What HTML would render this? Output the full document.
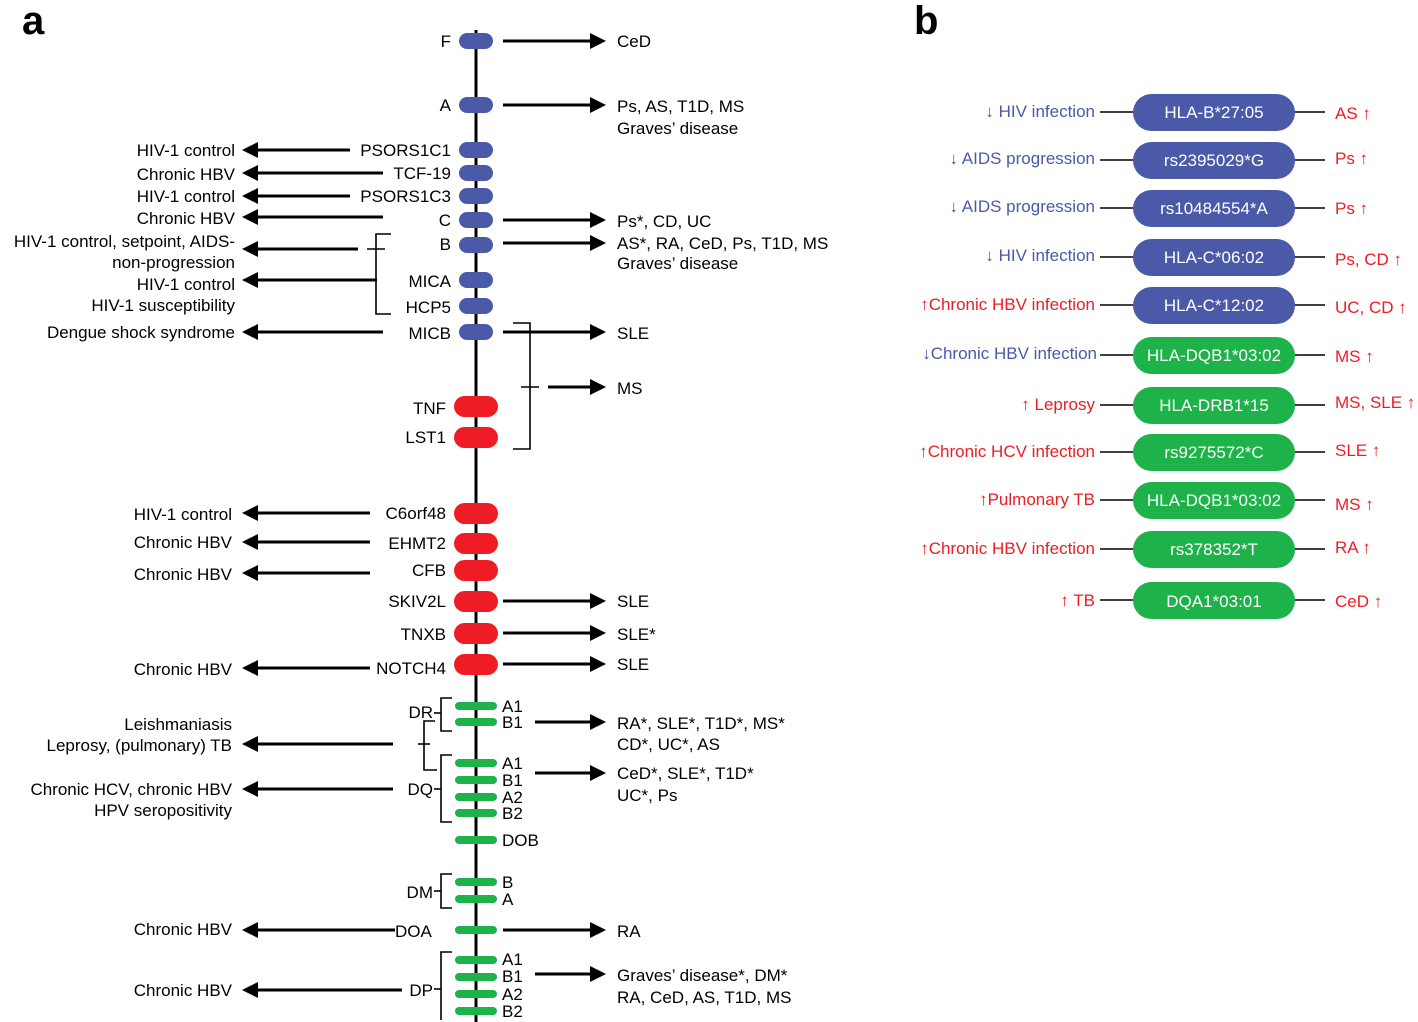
<!DOCTYPE html>
<html><head><meta charset="utf-8"><style>
body{margin:0;background:#fff}
svg{display:block}
text{font-family:"Liberation Sans",Arial,sans-serif;font-size:17px;fill:#000}
.e{text-anchor:end}
.bl{fill:#4a5aa8}.rd{fill:#ee1c25}
.pw{fill:#fff;text-anchor:middle}
</style></head><body>
<svg width="1418" height="1022" viewBox="0 0 1418 1022" xmlns="http://www.w3.org/2000/svg">
<defs>
<marker id="ah" markerWidth="10" markerHeight="10" refX="0" refY="5" orient="auto" markerUnits="userSpaceOnUse">
</marker>
</defs>
<text x="22" y="34" style="font-size:40px;font-weight:bold">a</text>
<text x="914" y="34" style="font-size:40px;font-weight:bold">b</text>
<line x1="476" y1="30" x2="476" y2="1022" stroke="#000" stroke-width="3"/>
<g fill="#4a5aa8">
<rect x="459" y="33" width="34" height="16" rx="8"/>
<rect x="459" y="97" width="34" height="16" rx="8"/>
<rect x="459" y="142" width="34" height="16" rx="8"/>
<rect x="459" y="165" width="34" height="16" rx="8"/>
<rect x="459" y="188" width="34" height="16" rx="8"/>
<rect x="459" y="212" width="34" height="16" rx="8"/>
<rect x="459" y="237" width="34" height="16" rx="8"/>
<rect x="459" y="272" width="34" height="16" rx="8"/>
<rect x="459" y="298" width="34" height="16" rx="8"/>
<rect x="459" y="324" width="34" height="16" rx="8"/>
</g>
<g fill="#ee1c25">
<rect x="454" y="396" width="44" height="21" rx="10.5"/>
<rect x="454" y="427" width="44" height="21" rx="10.5"/>
<rect x="454" y="503" width="44" height="21" rx="10.5"/>
<rect x="454" y="533" width="44" height="21" rx="10.5"/>
<rect x="454" y="560" width="44" height="21" rx="10.5"/>
<rect x="454" y="591" width="44" height="21" rx="10.5"/>
<rect x="454" y="623" width="44" height="21" rx="10.5"/>
<rect x="454" y="654" width="44" height="21" rx="10.5"/>
</g>
<g fill="#1db24a">
<rect x="455" y="702" width="42" height="8" rx="4"/>
<rect x="455" y="718" width="42" height="8" rx="4"/>
<rect x="455" y="759" width="42" height="8" rx="4"/>
<rect x="455" y="776" width="42" height="8" rx="4"/>
<rect x="455" y="793" width="42" height="8" rx="4"/>
<rect x="455" y="809" width="42" height="8" rx="4"/>
<rect x="455" y="836" width="42" height="8" rx="4"/>
<rect x="455" y="878" width="42" height="8" rx="4"/>
<rect x="455" y="895" width="42" height="8" rx="4"/>
<rect x="455" y="926" width="42" height="8" rx="4"/>
<rect x="455" y="956" width="42" height="8" rx="4"/>
<rect x="455" y="973" width="42" height="8" rx="4"/>
<rect x="455" y="990" width="42" height="8" rx="4"/>
<rect x="455" y="1007" width="42" height="8" rx="4"/>
</g>
<!-- right arrows -->
<g stroke="#000" stroke-width="3">
<line x1="503" y1="41" x2="592" y2="41"/>
<line x1="503" y1="105" x2="592" y2="105"/>
<line x1="503" y1="220" x2="592" y2="220"/>
<line x1="503" y1="243" x2="592" y2="243"/>
<line x1="503" y1="332" x2="592" y2="332"/>
<line x1="548" y1="387" x2="592" y2="387"/>
<line x1="503" y1="601" x2="592" y2="601"/>
<line x1="503" y1="633" x2="592" y2="633"/>
<line x1="503" y1="664" x2="592" y2="664"/>
<line x1="535" y1="722" x2="592" y2="722"/>
<line x1="535" y1="773" x2="592" y2="773"/>
<line x1="503" y1="930" x2="592" y2="930"/>
<line x1="535" y1="974" x2="592" y2="974"/>
</g>
<g fill="#000">
<polygon points="590,33 606,41 590,49"/>
<polygon points="590,97 606,105 590,113"/>
<polygon points="590,212 606,220 590,228"/>
<polygon points="590,235 606,243 590,251"/>
<polygon points="590,324 606,332 590,340"/>
<polygon points="590,379 606,387 590,395"/>
<polygon points="590,593 606,601 590,609"/>
<polygon points="590,625 606,633 590,641"/>
<polygon points="590,656 606,664 590,672"/>
<polygon points="590,714 606,722 590,730"/>
<polygon points="590,765 606,773 590,781"/>
<polygon points="590,922 606,930 590,938"/>
<polygon points="590,966 606,974 590,982"/>
</g>
<!-- left arrows -->
<g stroke="#000" stroke-width="3">
<line x1="255" y1="150" x2="350" y2="150"/>
<line x1="255" y1="173" x2="383" y2="173"/>
<line x1="255" y1="196" x2="350" y2="196"/>
<line x1="255" y1="217" x2="383" y2="217"/>
<line x1="255" y1="249" x2="358" y2="249"/>
<line x1="255" y1="280" x2="377" y2="280"/>
<line x1="255" y1="332" x2="383" y2="332"/>
<line x1="255" y1="513" x2="370" y2="513"/>
<line x1="255" y1="542" x2="370" y2="542"/>
<line x1="255" y1="573" x2="370" y2="573"/>
<line x1="255" y1="668" x2="370" y2="668"/>
<line x1="255" y1="744" x2="393" y2="744"/>
<line x1="255" y1="789" x2="393" y2="789"/>
<line x1="255" y1="930" x2="395" y2="930"/>
<line x1="255" y1="990" x2="402" y2="990"/>
</g>
<g fill="#000">
<polygon points="258,142 242,150 258,158"/>
<polygon points="258,165 242,173 258,181"/>
<polygon points="258,188 242,196 258,204"/>
<polygon points="258,209 242,217 258,225"/>
<polygon points="258,241 242,249 258,257"/>
<polygon points="258,272 242,280 258,288"/>
<polygon points="258,324 242,332 258,340"/>
<polygon points="258,505 242,513 258,521"/>
<polygon points="258,534 242,542 258,550"/>
<polygon points="258,565 242,573 258,581"/>
<polygon points="258,660 242,668 258,676"/>
<polygon points="258,736 242,744 258,752"/>
<polygon points="258,781 242,789 258,797"/>
<polygon points="258,922 242,930 258,938"/>
<polygon points="258,982 242,990 258,998"/>
</g>
<!-- brackets -->
<g stroke="#000" stroke-width="1.6" fill="none">
<polyline points="391,234 376,234 376,314 391,314"/>
<line x1="367" y1="249" x2="385" y2="249"/>
<polyline points="513,323 530,323 530,449 513,449"/>
<line x1="521" y1="387" x2="539" y2="387"/>
<polyline points="452,698 441,698 441,731 452,731"/>
<line x1="434" y1="713" x2="441" y2="713"/>
<polyline points="435,721 424,721 424,770 437,770"/>
<line x1="418" y1="744" x2="430" y2="744"/>
<polyline points="452,755 441,755 441,822 452,822"/>
<line x1="434" y1="789" x2="441" y2="789"/>
<polyline points="452,874 441,874 441,908 452,908"/>
<line x1="434" y1="891" x2="441" y2="891"/>
<polyline points="452,952 441,952 441,1020"/>
<line x1="434" y1="989" x2="441" y2="989"/>
</g>
<!-- gene labels -->
<text class="e" x="451" y="47">F</text>
<text class="e" x="451" y="111">A</text>
<text class="e" x="451" y="156">PSORS1C1</text>
<text class="e" x="451" y="179">TCF-19</text>
<text class="e" x="451" y="202">PSORS1C3</text>
<text class="e" x="451" y="226">C</text>
<text class="e" x="451" y="250">B</text>
<text class="e" x="451" y="287">MICA</text>
<text class="e" x="451" y="313">HCP5</text>
<text class="e" x="451" y="339">MICB</text>
<text class="e" x="446" y="414">TNF</text>
<text class="e" x="446" y="443">LST1</text>
<text class="e" x="446" y="519">C6orf48</text>
<text class="e" x="446" y="549">EHMT2</text>
<text class="e" x="446" y="576">CFB</text>
<text class="e" x="446" y="607">SKIV2L</text>
<text class="e" x="446" y="640">TNXB</text>
<text class="e" x="446" y="674">NOTCH4</text>
<text class="e" x="433" y="718">DR</text>
<text class="e" x="433" y="795">DQ</text>
<text class="e" x="433" y="898">DM</text>
<text x="395" y="937">DOA</text>
<text class="e" x="433" y="996">DP</text>
<text x="502" y="712">A1</text><text x="502" y="728">B1</text>
<text x="502" y="769">A1</text><text x="502" y="786">B1</text>
<text x="502" y="803">A2</text><text x="502" y="819">B2</text>
<text x="502" y="846">DOB</text>
<text x="502" y="888">B</text><text x="502" y="905">A</text>
<text x="502" y="965">A1</text><text x="502" y="982">B1</text>
<text x="502" y="1000">A2</text><text x="502" y="1017">B2</text>
<!-- right disease labels -->
<text x="617" y="47">CeD</text>
<text x="617" y="112">Ps, AS, T1D, MS</text>
<text x="617" y="134">Graves’ disease</text>
<text x="617" y="227">Ps*, CD, UC</text>
<text x="617" y="249">AS*, RA, CeD, Ps, T1D, MS</text>
<text x="617" y="269">Graves’ disease</text>
<text x="617" y="339">SLE</text>
<text x="617" y="394">MS</text>
<text x="617" y="607">SLE</text>
<text x="617" y="640">SLE*</text>
<text x="617" y="670">SLE</text>
<text x="617" y="729">RA*, SLE*, T1D*, MS*</text>
<text x="617" y="750">CD*, UC*, AS</text>
<text x="617" y="779">CeD*, SLE*, T1D*</text>
<text x="617" y="801">UC*, Ps</text>
<text x="617" y="937">RA</text>
<text x="617" y="981">Graves’ disease*, DM*</text>
<text x="617" y="1003">RA, CeD, AS, T1D, MS</text>
<!-- left disease labels -->
<text class="e" x="235" y="156">HIV-1 control</text>
<text class="e" x="235" y="180">Chronic HBV</text>
<text class="e" x="235" y="202">HIV-1 control</text>
<text class="e" x="235" y="224">Chronic HBV</text>
<text class="e" x="235" y="247">HIV-1 control,  setpoint, AIDS-</text>
<text class="e" x="235" y="268">non-progression</text>
<text class="e" x="235" y="290">HIV-1 control</text>
<text class="e" x="235" y="311">HIV-1 susceptibility</text>
<text class="e" x="235" y="338">Dengue shock syndrome</text>
<text class="e" x="232" y="520">HIV-1 control</text>
<text class="e" x="232" y="548">Chronic  HBV</text>
<text class="e" x="232" y="580">Chronic HBV</text>
<text class="e" x="232" y="675">Chronic HBV</text>
<text class="e" x="232" y="730">Leishmaniasis</text>
<text class="e" x="232" y="751">Leprosy, (pulmonary) TB</text>
<text class="e" x="232" y="795">Chronic HCV, chronic HBV</text>
<text class="e" x="232" y="816">HPV seropositivity</text>
<text class="e" x="232" y="935">Chronic HBV</text>
<text class="e" x="232" y="996">Chronic HBV</text>
<!-- panel b -->
<g stroke="#000" stroke-width="1.6">
<line x1="1100" y1="112" x2="1325" y2="112"/>
<line x1="1100" y1="160" x2="1325" y2="160"/>
<line x1="1100" y1="208" x2="1325" y2="208"/>
<line x1="1100" y1="257" x2="1325" y2="257"/>
<line x1="1100" y1="305" x2="1325" y2="305"/>
<line x1="1100" y1="355" x2="1325" y2="355"/>
<line x1="1100" y1="405" x2="1325" y2="405"/>
<line x1="1100" y1="452" x2="1325" y2="452"/>
<line x1="1100" y1="500" x2="1325" y2="500"/>
<line x1="1100" y1="549" x2="1325" y2="549"/>
<line x1="1100" y1="600" x2="1325" y2="600"/>
</g>
<g fill="#4a5aa8">
<rect x="1133" y="94" width="162" height="37" rx="18.5"/>
<rect x="1133" y="142" width="162" height="37" rx="18.5"/>
<rect x="1133" y="190" width="162" height="37" rx="18.5"/>
<rect x="1133" y="239" width="162" height="37" rx="18.5"/>
<rect x="1133" y="287" width="162" height="37" rx="18.5"/>
</g>
<g fill="#1db24a">
<rect x="1133" y="337" width="162" height="37" rx="18.5"/>
<rect x="1133" y="387" width="162" height="37" rx="18.5"/>
<rect x="1133" y="434" width="162" height="37" rx="18.5"/>
<rect x="1133" y="482" width="162" height="37" rx="18.5"/>
<rect x="1133" y="531" width="162" height="37" rx="18.5"/>
<rect x="1133" y="582" width="162" height="37" rx="18.5"/>
</g>
<text class="pw" x="1214" y="118">HLA-B*27:05</text>
<text class="pw" x="1214" y="166">rs2395029*G</text>
<text class="pw" x="1214" y="214">rs10484554*A</text>
<text class="pw" x="1214" y="263">HLA-C*06:02</text>
<text class="pw" x="1214" y="311">HLA-C*12:02</text>
<text class="pw" x="1214" y="361">HLA-DQB1*03:02</text>
<text class="pw" x="1214" y="411">HLA-DRB1*15</text>
<text class="pw" x="1214" y="458">rs9275572*C</text>
<text class="pw" x="1214" y="506">HLA-DQB1*03:02</text>
<text class="pw" x="1214" y="555">rs378352*T</text>
<text class="pw" x="1214" y="607">DQA1*03:01</text>
<text class="e bl" x="1095" y="117">↓ HIV infection</text>
<text class="e bl" x="1095" y="164">↓ AIDS progression</text>
<text class="e bl" x="1095" y="212">↓ AIDS progression</text>
<text class="e bl" x="1095" y="261">↓ HIV infection</text>
<text class="e rd" x="1095" y="310">↑Chronic HBV infection</text>
<text class="e bl" x="1097" y="359">↓Chronic HBV infection</text>
<text class="e rd" x="1095" y="410">↑ Leprosy</text>
<text class="e rd" x="1095" y="457">↑Chronic HCV infection</text>
<text class="e rd" x="1095" y="505">↑Pulmonary TB</text>
<text class="e rd" x="1095" y="554">↑Chronic HBV infection</text>
<text class="e rd" x="1095" y="606">↑ TB</text>
<text class="rd" x="1335" y="119">AS ↑</text>
<text class="rd" x="1335" y="164">Ps ↑</text>
<text class="rd" x="1335" y="214">Ps ↑</text>
<text class="rd" x="1335" y="265">Ps, CD ↑</text>
<text class="rd" x="1335" y="313">UC, CD ↑</text>
<text class="rd" x="1335" y="362">MS ↑</text>
<text class="rd" x="1335" y="408">MS, SLE ↑</text>
<text class="rd" x="1335" y="456">SLE ↑</text>
<text class="rd" x="1335" y="510">MS ↑</text>
<text class="rd" x="1335" y="553">RA ↑</text>
<text class="rd" x="1335" y="607">CeD ↑</text>
</svg>
</body></html>
